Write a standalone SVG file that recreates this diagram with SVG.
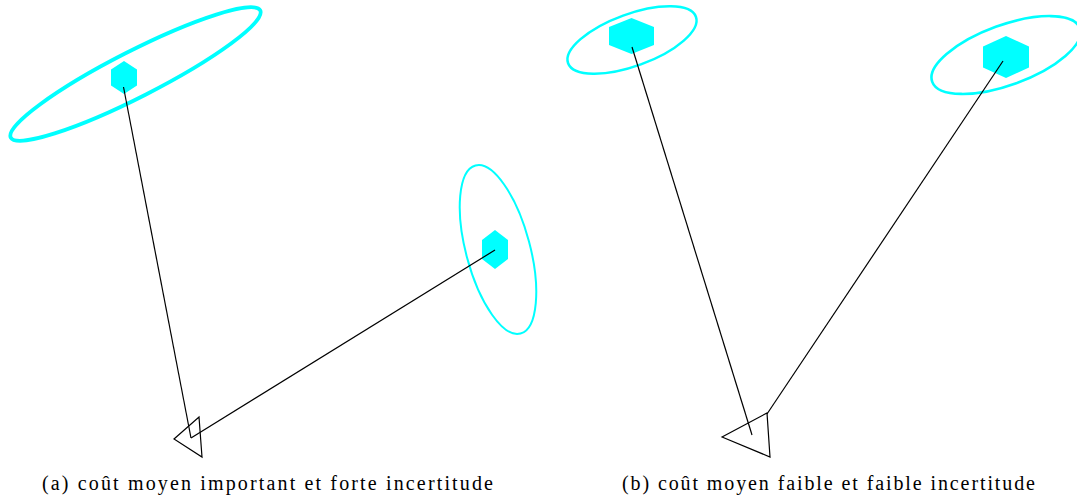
<svg xmlns="http://www.w3.org/2000/svg" width="1077" height="497" viewBox="0 0 1077 497">
<style>
.ell{fill:none;stroke:#00ffff}
.hex{fill:#00ffff;stroke:none}
.tri{fill:none;stroke:#000;stroke-width:1.2;stroke-linejoin:miter}
.ln{fill:none;stroke:#000;stroke-width:1.2}
.cap{font-family:"Liberation Serif","DejaVu Serif",serif;font-size:20px;fill:#000}
</style>
<rect width="1077" height="497" fill="#fff"/>
<g id="ellipse-a1"><ellipse class="ell" cx="135.5" cy="74" rx="140" ry="23" transform="rotate(-27 135.5 74)" stroke-width="3.8"/></g>
<g id="ellipse-a2"><ellipse class="ell" cx="498" cy="249.5" rx="32" ry="87" transform="rotate(-15 498 249.5)" stroke-width="2"/></g>
<g id="ellipse-b1"><ellipse class="ell" cx="632" cy="40" rx="68" ry="26" transform="rotate(-20 632 40)" stroke-width="2.5"/></g>
<g id="ellipse-b2"><ellipse class="ell" cx="1006" cy="55" rx="78.5" ry="30" transform="rotate(-20 1006 55)" stroke-width="2.6"/></g>
<g id="hex-a1"><polygon class="hex" points="124,61 137,69.5 137,85.5 124,94 111,85.5 111,69.5"/></g>
<g id="hex-a2"><polygon class="hex" points="495,230 508,240 508,259 495,269 482,259 482,240"/></g>
<g id="hex-b1"><polygon class="hex" points="631.5,18 654,27 654,45 631.5,54 609,45 609,27"/></g>
<g id="hex-b2"><polygon class="hex" points="1006,36 1029,46.5 1029,67.5 1006,78 983,67.5 983,46.5"/></g>
<g id="connectors">
<line class="ln" x1="123.5" y1="87" x2="191" y2="438"/>
<line class="ln" x1="495" y1="250" x2="191" y2="438" stroke="#003c3c"/>
<line class="ln" x1="632" y1="47" x2="752" y2="435"/>
<line class="ln" x1="1003" y1="61" x2="767" y2="414"/>
</g>
<g id="robot-a"><polygon class="tri" points="174,439 199,417 202,457"/></g>
<g id="robot-b"><polygon class="tri" points="722,437 767,413 770,457"/></g>
<g id="captions">
<text class="cap" x="42" y="490" textLength="451" lengthAdjust="spacing">(a) coût moyen important et forte incertitude</text>
<text class="cap" x="622" y="490" textLength="413" lengthAdjust="spacing">(b) coût moyen faible et faible incertitude</text>
</g>
</svg>
